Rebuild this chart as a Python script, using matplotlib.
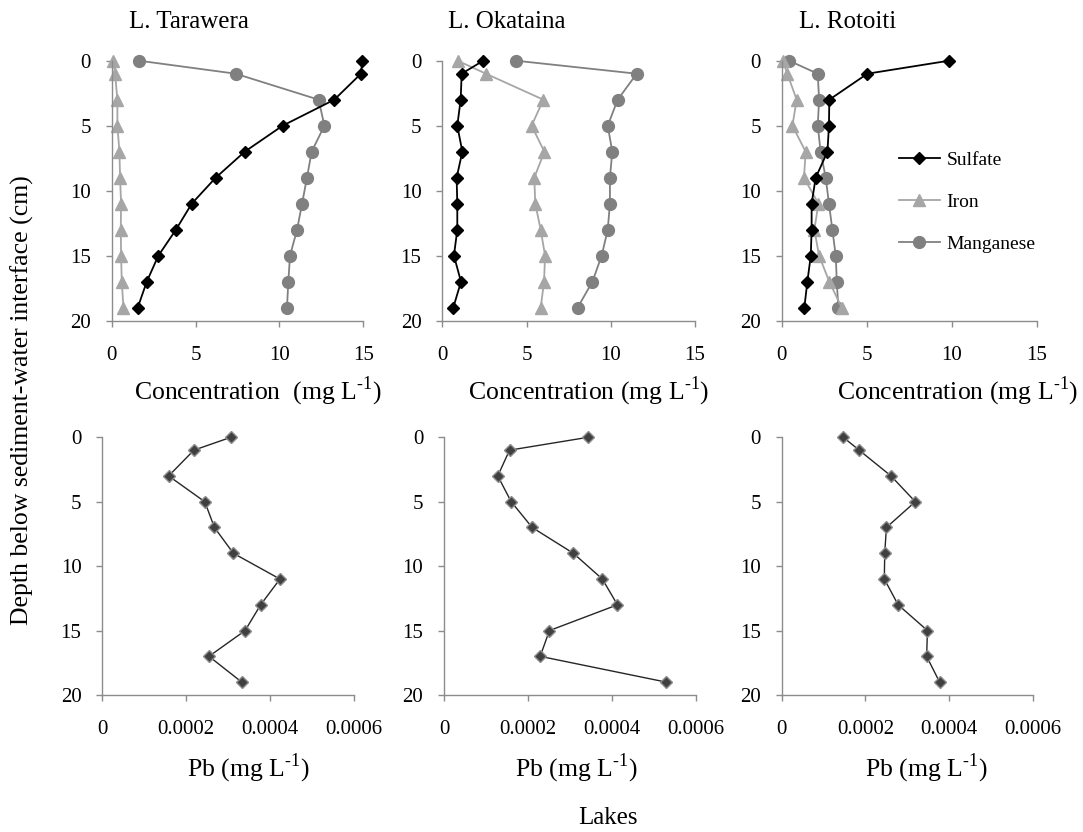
import numpy as np
import matplotlib
matplotlib.use('Agg')
import matplotlib.pyplot as plt

plt.rcParams['font.family'] = ['Liberation Serif', 'DejaVu Serif']
plt.rcParams['mathtext.fontset'] = 'custom'
plt.rcParams['mathtext.rm'] = 'Liberation Serif'

# profundidades (cm)
depth = [0, 1, 3, 5, 7, 9, 11, 13, 15, 17, 19]

# L. Tarawera (mg/L)
tar_sulfate = [14.94, 14.86, 13.27, 10.19, 7.93, 6.20, 4.77, 3.83, 2.78, 2.09, 1.55]
tar_iron = [0.10, 0.20, 0.34, 0.34, 0.46, 0.50, 0.56, 0.54, 0.56, 0.60, 0.70]
tar_mn = [1.63, 7.39, 12.34, 12.68, 11.92, 11.64, 11.35, 11.05, 10.63, 10.53, 10.45]

# L. Okataina
oka_sulfate = [2.43, 1.15, 1.09, 0.89, 1.19, 0.85, 0.89, 0.89, 0.69, 1.11, 0.65]
oka_iron = [0.91, 2.59, 6.00, 5.30, 6.06, 5.46, 5.52, 5.84, 6.10, 6.04, 5.84]
oka_mn = [4.37, 11.54, 10.41, 9.82, 10.09, 9.95, 9.95, 9.82, 9.46, 8.91, 8.03]

# L. Rotoiti
rot_sulfate = [9.84, 5.04, 2.80, 2.78, 2.69, 2.00, 1.76, 1.76, 1.71, 1.51, 1.33]
rot_iron = [0.06, 0.33, 0.88, 0.63, 1.41, 1.31, 2.16, 1.92, 2.20, 2.80, 3.53]
rot_mn = [0.43, 2.12, 2.20, 2.12, 2.29, 2.59, 2.78, 2.98, 3.18, 3.24, 3.33]

# Pb (mg/L)
tar_pb = [0.000306, 0.000218, 0.000158, 0.000244, 0.000267, 0.000312, 0.000423, 0.000377, 0.000340, 0.000254, 0.000332]
oka_pb = [0.000343, 0.000156, 0.000128, 0.000160, 0.000210, 0.000308, 0.000377, 0.000413, 0.000251, 0.000229, 0.000529]
rot_pb = [0.000147, 0.000185, 0.000261, 0.000319, 0.000250, 0.000246, 0.000245, 0.000278, 0.000348, 0.000346, 0.000377]

lakes = ['L. Tarawera', 'L. Okataina', 'L. Rotoiti']
conc_ticks = [0, 5, 10, 15]
pb_ticks = [0, 0.0002, 0.0004, 0.0006]
pb_tick_labels = ['0', '0.0002', '0.0004', '0.0006']
depth_ticks = [0, 5, 10, 15, 20]

W, H = 1083, 832
fig = plt.figure(figsize=(W / 100, H / 100), dpi=100)

def eixo(x0, x1, y0, y1):
    # cria eixo a partir de coordenadas em pixels (y medido do topo)
    ax = fig.add_axes([x0 / W, 1 - y1 / H, (x1 - x0) / W, (y1 - y0) / H])
    for s in ['top', 'right']:
        ax.spines[s].set_visible(False)
    for s in ['left', 'bottom']:
        ax.spines[s].set_color('#8c8c8c')
        ax.spines[s].set_linewidth(1.0)
    ax.set_ylim(20, 0)
    ax.set_yticks(depth_ticks)
    ax.tick_params(direction='out', length=4, width=1, color='#8c8c8c',
                   labelsize=15, labelcolor='black')
    ax.tick_params(axis='x', pad=14)
    ax.tick_params(axis='y', pad=11)
    return ax

topo = [(111.7, 363.3), (442.3, 695.0), (781.7, 1036.7)]
baixo = [(102.3, 354.3), (444.0, 696.0), (781.7, 1033.0)]

quimica = [(tar_sulfate, tar_iron, tar_mn),
           (oka_sulfate, oka_iron, oka_mn),
           (rot_sulfate, rot_iron, rot_mn)]
pbs = [tar_pb, oka_pb, rot_pb]

sup = r'$^{\mathregular{\text{-}1}}$'
title_x = [189, 507, 848]
conc_label_x = [258, 589, 958]
conc_label_txt = ['Concentration  (mg L' + sup + ')',
                  'Concentration (mg L' + sup + ')',
                  'Concentration (mg L' + sup + ')']
pb_label_x = [248, 576, 926]

for i in range(3):
    ax = eixo(topo[i][0], topo[i][1], 60.7, 320.7)
    so4, fe, mn = quimica[i]
    ax.plot(mn, depth, color='#808080', lw=1.3, marker='o', ms=8.5,
            mec='#808080', mfc='#808080', label='Manganese', clip_on=False)
    ax.plot(fe, depth, color='#a6a6a6', lw=1.3, marker='^', ms=8.5,
            mec='#a6a6a6', mfc='#a6a6a6', label='Iron', clip_on=False)
    ax.plot(so4, depth, color='black', lw=1.3, marker='D', ms=5.8,
            mec='black', mfc='black', label='Sulfate', clip_on=False)
    ax.set_xlim(0, 15)
    ax.set_xticks(conc_ticks)
    fig.text(title_x[i] / W, 1 - 22 / H, lakes[i], ha='center', va='center', fontsize=18)
    fig.text(conc_label_x[i] / W, 1 - 391 / H, conc_label_txt[i], ha='center', va='center', fontsize=18.5)
    if i == 2:
        h, l = ax.get_legend_handles_labels()
        ax.legend(h[::-1], l[::-1], loc='center left', frameon=False,
                  bbox_to_anchor=(899 / W, 1 - 202 / H), bbox_transform=fig.transFigure,
                  borderpad=0, borderaxespad=0, fontsize=14, labelspacing=1.25,
                  handlelength=2.1, handletextpad=0.35)

    ax2 = eixo(baixo[i][0], baixo[i][1], 437.3, 695.0)
    ax2.plot(pbs[i], depth, color='#262626', lw=1.0, marker='D', ms=6.2,
             mfc='#404040', mec='#8c8c8c', mew=1.0, clip_on=False)
    ax2.set_xlim(0, 0.0006)
    ax2.set_xticks(pb_ticks)
    ax2.set_xticklabels(pb_tick_labels)
    fig.text(pb_label_x[i] / W, 1 - 768 / H, 'Pb (mg L' + sup + ')',
             ha='center', va='center', fontsize=18.5)

fig.text(22 / W, 1 - 400 / H, 'Depth below sediment-water interface (cm)',
         rotation=90, ha='center', va='center', fontsize=18.5)
fig.text(608 / W, 1 - 818 / H, 'Lakes', ha='center', va='center', fontsize=18)

fig.savefig('out.png', dpi=100)
